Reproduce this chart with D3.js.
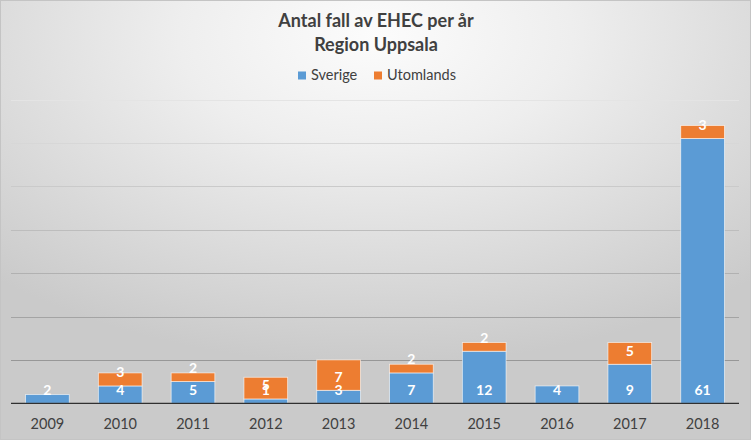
<!DOCTYPE html>
<html><head><meta charset="utf-8">
<script src="https://cdn.jsdelivr.net/npm/d3@7"></script>
<style>html,body{margin:0;padding:0;background:#fff}svg{display:block}</style>
</head><body>
<svg id="chart" width="751" height="440"></svg>
<script>
const years = ["2009","2010","2011","2012","2013","2014","2015","2016","2017","2018"];
const sverige = [2,4,5,1,3,7,12,4,9,61];
const utomlands = [0,3,2,5,7,2,2,0,5,3];
const seriesNames = ["Sverige","Utomlands"];
const seriesColors = ["#5B9BD5","#ED7D31"];
const gridTicks = [10,20,30,40,50,60,70];
const titleLines = ["Antal fall av EHEC per år","Region Uppsala"];

const W = 751, H = 440;
const svg = d3.select("#chart");
const font = "Lato, 'Open Sans', sans-serif";

const defs = svg.append("defs");
const rg = defs.append("radialGradient").attr("id","bg")
  .attr("cx","50%").attr("cy","8%").attr("r","75%")
  .attr("gradientUnits","objectBoundingBox");
rg.append("stop").attr("offset","0%").attr("stop-color","#fcfcfc");
rg.append("stop").attr("offset","35%").attr("stop-color","#eeeeee");
rg.append("stop").attr("offset","100%").attr("stop-color","#cacaca");

svg.append("rect").attr("x",0.5).attr("y",0.5).attr("width",W-1).attr("height",H-1)
  .attr("fill","url(#bg)").attr("stroke","#c4c4c4");

const table = years.map((y,i)=>({year:y, Sverige:sverige[i], Utomlands:utomlands[i]}));
const stacked = d3.stack().keys(seriesNames)(table);

const x = d3.scaleBand().domain(years).range([11,739]).paddingInner(0.4).paddingOuter(0.2);
const y = d3.scaleLinear().domain([0,70]).range([403.3,99.5]);
const gridColor = d3.scaleLinear().domain([99.5,403]).range(["#e4e4e4","#8a8a8a"]);

// gridlines
svg.append("g").selectAll("line").data(gridTicks).join("line")
  .attr("x1",11).attr("x2",739)
  .attr("y1",d=>Math.round(y(d))+0.5).attr("y2",d=>Math.round(y(d))+0.5)
  .attr("stroke",d=>gridColor(y(d))).attr("stroke-width",1);

// bars
const layers = svg.append("g").selectAll("g").data(stacked).join("g")
  .attr("fill",(d,i)=>seriesColors[i]);
layers.selectAll("rect").data(d=>d.filter(s=>s[1]-s[0]>0)).join("rect")
  .attr("x",d=>x(d.data.year))
  .attr("width",x.bandwidth())
  .attr("y",d=>y(d[1]))
  .attr("height",d=>y(d[0])-y(d[1]))
  .attr("stroke","rgba(255,255,255,0.7)").attr("stroke-width",0.8);

// axis baseline
svg.append("line").attr("x1",11).attr("x2",739)
  .attr("y1",y(0)).attr("y2",y(0)).attr("stroke","#303030").attr("stroke-width",1.2);

// data labels (inside base), drawn on top of all bars
const labelData = stacked.flatMap(s=>s.filter(d=>d[1]-d[0]>0));
svg.append("g").selectAll("text").data(labelData).join("text")
  .attr("x",d=>x(d.data.year)+x.bandwidth()/2)
  .attr("y",d=>y(d[0])-8.5)
  .attr("text-anchor","middle")
  .attr("fill","#ffffff").attr("font-family",font).attr("font-weight","bold")
  .attr("font-size",14)
  .text(d=>d[1]-d[0]);

// x axis labels
svg.append("g").selectAll("text").data(years).join("text")
  .attr("x",d=>x(d)+x.bandwidth()/2).attr("y",429)
  .attr("text-anchor","middle").attr("fill","#404040")
  .attr("font-family",font).attr("font-size",14.5)
  .text(d=>d);

// title
svg.append("g").selectAll("text").data(titleLines).join("text")
  .attr("x",376).attr("y",(d,i)=>27+i*23.5)
  .attr("text-anchor","middle").attr("fill","#404040")
  .attr("font-family",font).attr("font-weight","bold").attr("font-size",18)
  .text(d=>d);

// legend
const legend = svg.append("g");
const legX = [298, 374];
seriesNames.forEach((n,i)=>{
  legend.append("rect").attr("x",legX[i]).attr("y",71.5).attr("width",8).attr("height",8)
    .attr("fill",seriesColors[i]);
  legend.append("text").attr("x",legX[i]+13).attr("y",79.5)
    .attr("fill","#404040").attr("font-family",font).attr("font-size",14.5).text(n);
});
</script>
</body></html>
